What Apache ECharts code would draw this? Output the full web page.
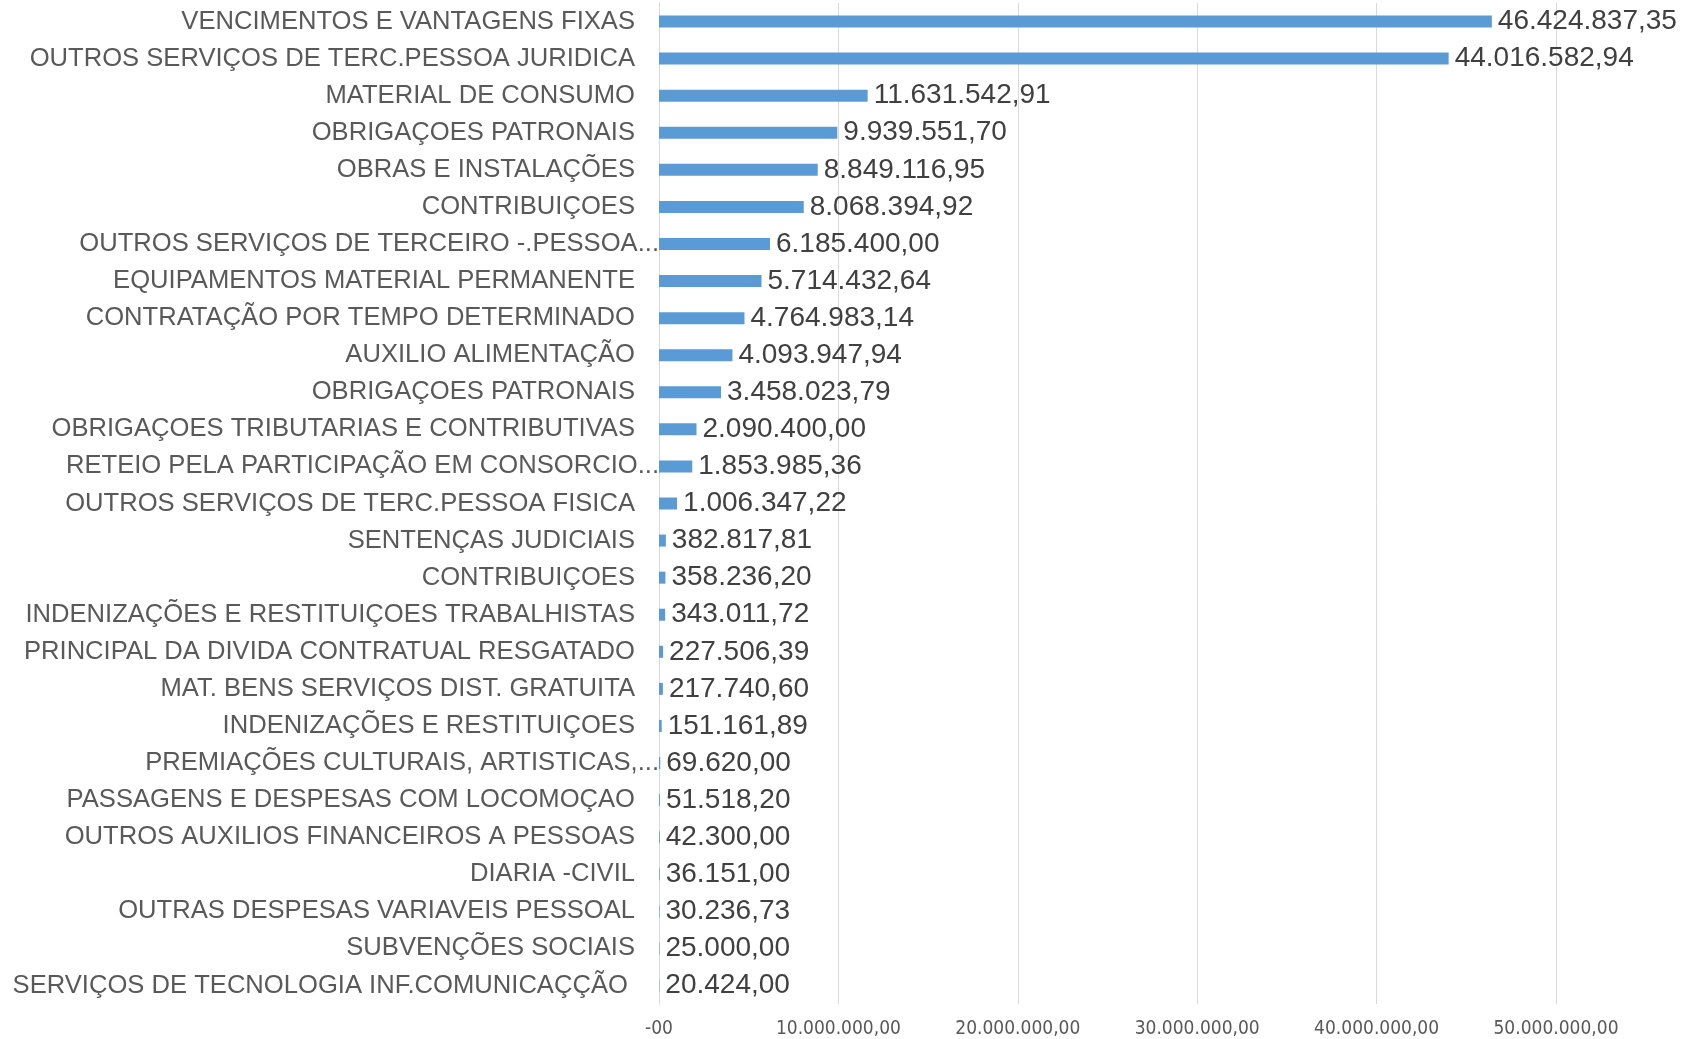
<!DOCTYPE html>
<html>
<head>
<meta charset="utf-8">
<script src="https://cdn.jsdelivr.net/npm/echarts@6/dist/echarts.min.js"></script>
<style>
html,body{margin:0;padding:0;background:#fff}
#chart{width:1682px;height:1039px}
</style>
</head>
<body>
<div id="chart"></div>
<script>
// categorias (de cima para baixo)
var categorias = [
    'VENCIMENTOS E VANTAGENS FIXAS',
    'OUTROS SERVIÇOS DE TERC.PESSOA JURIDICA',
    'MATERIAL DE CONSUMO',
    'OBRIGAÇOES PATRONAIS',
    'OBRAS E INSTALAÇÕES',
    'CONTRIBUIÇOES',
    'OUTROS SERVIÇOS DE TERCEIRO -.PESSOA...',
    'EQUIPAMENTOS MATERIAL PERMANENTE',
    'CONTRATAÇÃO POR TEMPO DETERMINADO',
    'AUXILIO ALIMENTAÇÃO',
    'OBRIGAÇOES PATRONAIS',
    'OBRIGAÇOES TRIBUTARIAS E CONTRIBUTIVAS',
    'RETEIO PELA PARTICIPAÇÃO EM CONSORCIO...',
    'OUTROS SERVIÇOS DE TERC.PESSOA FISICA',
    'SENTENÇAS JUDICIAIS',
    'CONTRIBUIÇOES',
    'INDENIZAÇÕES E RESTITUIÇOES TRABALHISTAS',
    'PRINCIPAL DA DIVIDA CONTRATUAL RESGATADO',
    'MAT. BENS SERVIÇOS DIST. GRATUITA',
    'INDENIZAÇÕES E RESTITUIÇOES',
    'PREMIAÇÕES CULTURAIS, ARTISTICAS,...',
    'PASSAGENS E DESPESAS COM LOCOMOÇAO',
    'OUTROS AUXILIOS FINANCEIROS A PESSOAS',
    'DIARIA -CIVIL',
    'OUTRAS DESPESAS VARIAVEIS PESSOAL',
    'SUBVENÇÕES SOCIAIS',
    'SERVIÇOS DE TECNOLOGIA INF.COMUNICAÇÇÃO '
];
var valores = [
    46424837.35, 44016582.94, 11631542.91, 9939551.70, 8849116.95,
    8068394.92, 6185400.00, 5714432.64, 4764983.14, 4093947.94,
    3458023.79, 2090400.00, 1853985.36, 1006347.22, 382817.81,
    358236.20, 343011.72, 227506.39, 217740.60, 151161.89,
    69620.00, 51518.20, 42300.00, 36151.00, 30236.73,
    25000.00, 20424.00
];
var eixoMax = 50000000, eixoPasso = 10000000;

function fmtBR(v) {
    var p = v.toFixed(2).split('.');
    return p[0].replace(/\B(?=(\d{3})+(?!\d))/g, '.') + ',' + p[1];
}

var myChart = echarts.init(document.getElementById('chart'));
var option = {
    animation: false,
    grid: {left: 659, right: 126, top: 3, bottom: 35},
    xAxis: {
        type: 'value',
        min: 0, max: eixoMax, interval: eixoPasso,
        axisLine: {show: false},
        axisTick: {show: false},
        splitLine: {lineStyle: {color: '#d9d9d9', width: 1}},
        axisLabel: {
            margin: 16,
            fontFamily: '"DejaVu Sans Condensed", "Liberation Sans", sans-serif',
            fontSize: 19,
            color: '#595959',
            formatter: function (v) { return v === 0 ? '-00' : fmtBR(v); }
        }
    },
    yAxis: {
        type: 'category',
        inverse: true,
        data: categorias,
        axisTick: {show: false},
        axisLine: {lineStyle: {color: '#d9d9d9', width: 1}},
        axisLabel: {
            margin: 0,
            formatter: function (v) {
                return /\.\.\.$/.test(v) ? '{t|' + v + '}' : '{n|' + v + '}';
            },
            rich: {
                n: {fontFamily: 'Liberation Sans', fontSize: 25.6, color: '#595959', padding: [0, 24, 0, 0]},
                t: {fontFamily: 'Liberation Sans', fontSize: 25.6, color: '#595959', padding: [0, 0, 0, 0]}
            }
        }
    },
    series: [{
        type: 'bar',
        data: valores,
        barWidth: 12,
        itemStyle: {color: '#5b9bd5'},
        label: {
            show: true,
            position: 'right',
            distance: 6,
            fontFamily: 'Liberation Sans',
            fontSize: 28,
            color: '#404040',
            formatter: function (p) { return fmtBR(p.value); }
        }
    }]
};
myChart.setOption(option);
window.addEventListener("resize", function () {
    myChart.resize();
});
</script>
</body>
</html>
